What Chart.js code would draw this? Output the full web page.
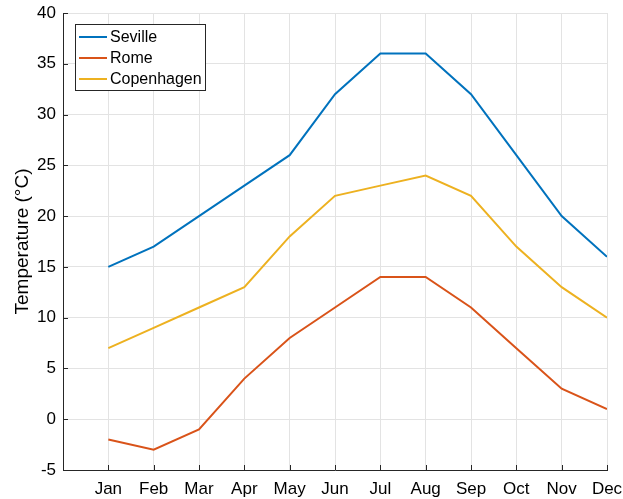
<!DOCTYPE html>
<html>
<head>
<meta charset="utf-8">
<script src="https://cdn.jsdelivr.net/npm/chart.js@4"></script>
<style>
  html, body { margin: 0; padding: 0; background: #fff; }
  #wrap { width: 623px; height: 499px; }
</style>
</head>
<body>
<div id="wrap"><canvas id="chart"></canvas></div>
<script>
  const months = ["Jan", "Feb", "Mar", "Apr", "May", "Jun", "Jul", "Aug", "Sep", "Oct", "Nov", "Dec"];
  const seville = [15, 17, 20, 23, 26, 32, 36, 36, 32, 26, 20, 16];
  const rome = [-2, -3, -1, 4, 8, 11, 14, 14, 11, 7, 3, 1];
  const copenhagen = [7, 9, 11, 13, 18, 22, 23, 24, 22, 17, 13, 10];
  const cityNames = ["Seville", "Rome", "Copenhagen"];
  const cityColors = ["#0072BD", "#D95319", "#EDB120"];

  const FONT = "'Liberation Sans', Arial, sans-serif";
  const AXIS = "#262626";

  const series = [seville, rome, copenhagen];
  const datasets = series.map((vals, i) => ({
    label: cityNames[i],
    data: vals.map((v, j) => ({ x: j + 1, y: v })),
    borderColor: cityColors[i],
    backgroundColor: cityColors[i],
    borderWidth: 2,
    pointRadius: 0,
    tension: 0
  }));

  // inward ticks, MATLAB style
  const inwardTicks = {
    id: "inwardTicks",
    afterDatasetsDraw(chart) {
      const { ctx, chartArea: a, scales: { x, y } } = chart;
      ctx.save();
      ctx.strokeStyle = AXIS;
      ctx.lineWidth = 1;
      ctx.beginPath();
      x.ticks.forEach(t => {
        const px = Math.round(x.getPixelForValue(t.value)) + 0.5;
        ctx.moveTo(px, a.bottom); ctx.lineTo(px, a.bottom - 5);
      });
      y.ticks.forEach(t => {
        const py = Math.round(y.getPixelForValue(t.value)) + 0.5;
        ctx.moveTo(a.left, py); ctx.lineTo(a.left + 5, py);
      });
      ctx.stroke();
      ctx.restore();
    }
  };

  // legend box inside the plot, top-left
  const boxLegend = {
    id: "boxLegend",
    afterDraw(chart) {
      const { ctx, chartArea: a } = chart;
      const x0 = a.left + 12, y0 = a.top + 11, w = 130, rowH = 21;
      const h = rowH * chart.data.datasets.length + 3;
      ctx.save();
      ctx.fillStyle = "#fff";
      ctx.fillRect(x0, y0, w, h);
      ctx.strokeStyle = AXIS;
      ctx.lineWidth = 1;
      ctx.strokeRect(x0 + 0.5, y0 + 0.5, w, h);
      ctx.font = "16px " + FONT;
      ctx.textBaseline = "middle";
      chart.data.datasets.forEach((ds, i) => {
        const cy = y0 + 13 + i * rowH;
        ctx.strokeStyle = ds.borderColor;
        ctx.lineWidth = 2;
        ctx.beginPath();
        ctx.moveTo(x0 + 4, cy); ctx.lineTo(x0 + 32, cy);
        ctx.stroke();
        ctx.fillStyle = "#000";
        ctx.fillText(ds.label, x0 + 35, cy + 1);
      });
      ctx.restore();
    }
  };

  new Chart(document.getElementById("chart"), {
    type: "line",
    data: { datasets },
    options: {
      responsive: true,
      maintainAspectRatio: false,
      animation: false,
      layout: { padding: { top: 13, right: 16, left: 0, bottom: 0 } },
      plugins: { legend: { display: false }, tooltip: { enabled: false } },
      scales: {
        x: {
          type: "linear", min: 0, max: 12,
          afterFit: s => { s.height = 29; s.paddingLeft = 0; s.paddingRight = 0; },
          ticks: {
            stepSize: 1, padding: 9, color: "#000",
            font: { family: FONT, size: 17 },
            maxRotation: 0, autoSkip: false,
            callback: v => months[v - 1] || ""
          },
          grid: { color: "#e3e3e3", drawTicks: false },
          border: { color: AXIS, width: 1 }
        },
        y: {
          min: -5, max: 40,
          afterFit: s => { s.width = 63; s.paddingTop = 0; s.paddingBottom = 0; },
          ticks: {
            stepSize: 5, padding: 7, color: "#000",
            font: { family: FONT, size: 17 }
          },
          grid: { color: "#e3e3e3", drawTicks: false },
          border: { color: AXIS, width: 1 },
          title: {
            display: true, text: "Temperature (°C)", color: "#000",
            font: { family: FONT, size: 19 }, padding: { top: 11, bottom: 0 }
          }
        }
      }
    },
    plugins: [inwardTicks, boxLegend]
  });
</script>
</body>
</html>
